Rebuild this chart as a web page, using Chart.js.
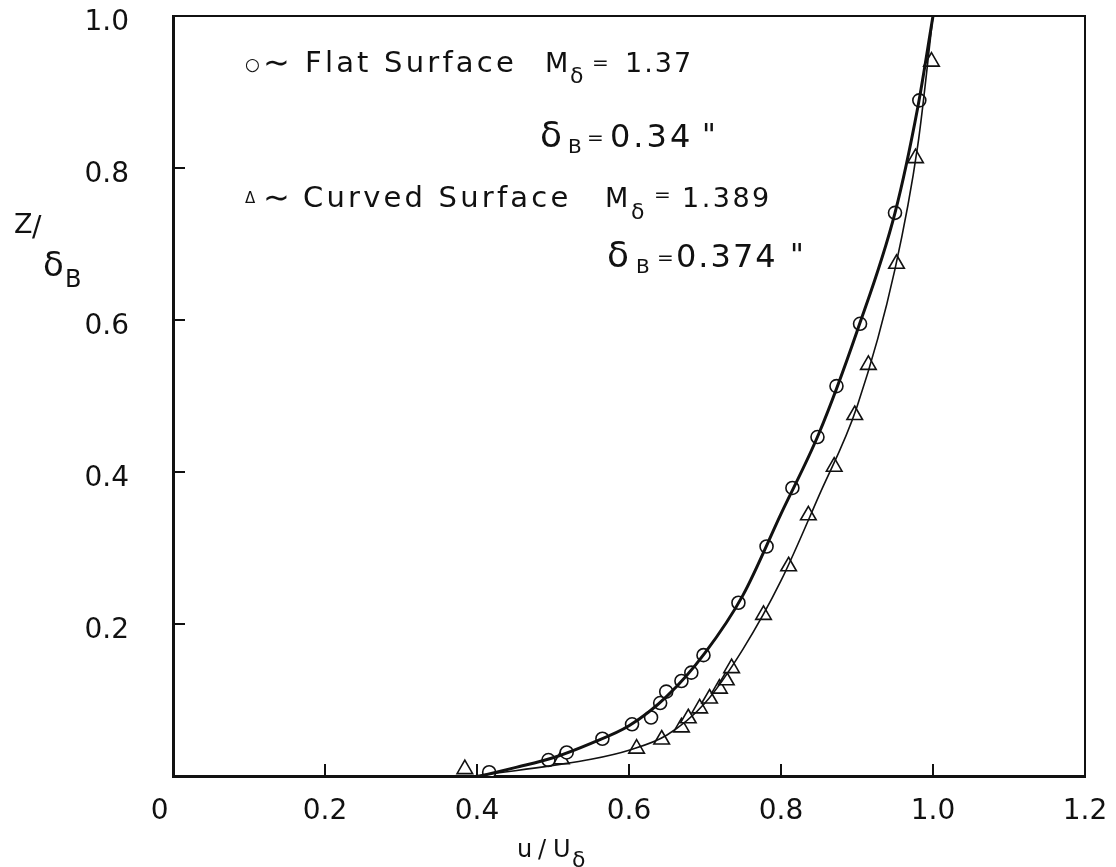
<!DOCTYPE html>
<html>
<head>
<meta charset="utf-8">
<script src="https://cdn.jsdelivr.net/npm/chart.js@4.4.1/dist/chart.umd.min.js"></script>
<style>
    html, body { margin: 0; padding: 0; background: #ffffff; }
    #chartBox { width: 1116px; height: 867px; }
</style>
</head>
<body>
<div id="chartBox"><canvas id="graficaPerfil" width="1116" height="867"></canvas></div>
<script>
// Data:
const flatU   = [0.416, 0.494, 0.518, 0.565, 0.604, 0.629, 0.641, 0.649, 0.669, 0.682, 0.698, 0.744, 0.781, 0.815, 0.848, 0.873, 0.904, 0.950, 0.982];
const flatZ   = [0.005, 0.021, 0.031, 0.049, 0.068, 0.077, 0.096, 0.111, 0.125, 0.136, 0.159, 0.228, 0.302, 0.379, 0.446, 0.513, 0.595, 0.741, 0.889];
const curvedU = [0.384, 0.511, 0.610, 0.643, 0.669, 0.678, 0.693, 0.706, 0.719, 0.728, 0.735, 0.777, 0.810, 0.836, 0.870, 0.897, 0.915, 0.952, 0.977, 0.998];
const curvedZ = [0.009, 0.022, 0.036, 0.048, 0.064, 0.076, 0.089, 0.102, 0.115, 0.126, 0.142, 0.212, 0.276, 0.343, 0.407, 0.475, 0.541, 0.674, 0.813, 0.940];

// Faired curves drawn through the points:
const flatFitU   = [0.405, 0.45, 0.50, 0.55, 0.60, 0.65, 0.70, 0.75, 0.80, 0.85, 0.90, 0.95, 0.98, 1.00];
const flatFitZ   = [0.000, 0.011, 0.024, 0.043, 0.066, 0.105, 0.162, 0.238, 0.345, 0.451, 0.585, 0.741, 0.880, 1.00];
const curvedFitU = [0.395, 0.45, 0.50, 0.55, 0.60, 0.65, 0.70, 0.75, 0.80, 0.85, 0.90, 0.95, 0.98, 1.00];
const curvedFitZ = [0.000, 0.007, 0.014, 0.022, 0.034, 0.054, 0.096, 0.167, 0.257, 0.369, 0.486, 0.667, 0.830, 1.00];

// Axis ticks:
const xTicks = [0, 0.2, 0.4, 0.6, 0.8, 1.0, 1.2];
const yTicks = [0.2, 0.4, 0.6, 0.8, 1.0];

const INK = "#111111";
const FONT = "'DejaVu Sans', sans-serif";

// Build {x, y} points:
function toPoints(xs, ys)
{
    const pts = [];
    for (let i = 0; i < xs.length; i++)
    {
        pts.push({x: xs[i], y: ys[i]});
    }
    return pts;
}

// Draw text pieces, each one at its own offset from the line start:
function drawRuns(ctx, x, y, runs)
{
    ctx.save();
    ctx.fillStyle = INK;
    ctx.textBaseline = "alphabetic";
    ctx.textAlign = "left";
    runs.forEach(function (r)
    {
        ctx.font = r.size + "px " + FONT;
        ctx.letterSpacing = (r.sp || 0) + "px";
        ctx.fillText(r.t, x + r.at, y + (r.dy || 0));
    });
    ctx.restore();
}

// No extra room for overflowing tick labels:
function noPadding(scale)
{
    scale.paddingTop = 0;
    scale.paddingBottom = 0;
    scale.paddingLeft = 0;
    scale.paddingRight = 0;
}

// Box, inward ticks, titles and notes:
const framePlugin = {
    id: "framePlugin",
    afterDraw: function (chart)
    {
        const ctx = chart.ctx;
        const a = chart.chartArea;
        const sx = chart.scales.x;
        const sy = chart.scales.y;

        ctx.save();
        ctx.strokeStyle = INK;
        ctx.lineWidth = 2;
        ctx.beginPath();
        ctx.moveTo(a.left, a.top);
        ctx.lineTo(a.right, a.top);
        ctx.lineTo(a.right, a.bottom);
        ctx.stroke();

        xTicks.forEach(function (v)
        {
            if (v <= 0 || v >= 1.2) return;
            const px = sx.getPixelForValue(v);
            ctx.beginPath();
            ctx.moveTo(px, a.bottom);
            ctx.lineTo(px, a.bottom - 12);
            ctx.stroke();
        });
        yTicks.forEach(function (v)
        {
            if (v >= 1.0) return;
            const py = sy.getPixelForValue(v);
            ctx.beginPath();
            ctx.moveTo(a.left, py);
            ctx.lineTo(a.left + 12, py);
            ctx.stroke();
        });
        ctx.restore();

        // Axis titles:
        drawRuns(ctx, 14, 233, [
            {t: "Z", size: 27, at: 0},
            {t: "/", size: 28, at: 18, dy: 3},
            {t: "δ", size: 34, at: 29, dy: 43},
            {t: "B", size: 24, at: 51, dy: 54}
        ]);
        drawRuns(ctx, 517, 857, [
            {t: "u", size: 24, at: 0},
            {t: "/", size: 24, at: 21},
            {t: "U", size: 24, at: 36},
            {t: "δ", size: 22, at: 55, dy: 10}
        ]);

        // Notes, placed from the plot box:
        const x0 = a.left;
        const y0 = a.top;
        drawRuns(ctx, x0, y0 + 56, [
            {t: "○", size: 17, at: 72, dy: -2},
            {t: "∼", size: 32, at: 90, dy: 1},
            {t: "Flat Surface", size: 29, sp: 3.2, at: 132},
            {t: "M", size: 27, at: 372},
            {t: "δ", size: 22, at: 397, dy: 11},
            {t: "=", size: 20, at: 419, dy: -3},
            {t: "1.37", size: 27, sp: 2, at: 452}
        ]);
        drawRuns(ctx, x0, y0 + 131, [
            {t: "δ", size: 36, at: 367},
            {t: "B", size: 20, at: 395, dy: 6},
            {t: "=", size: 20, at: 414, dy: -3},
            {t: "0.34", size: 32, sp: 3, at: 437},
            {t: "\"", size: 30, at: 529, dy: -2}
        ]);
        drawRuns(ctx, x0, y0 + 191, [
            {t: "Δ", size: 15, at: 72, dy: -4},
            {t: "∼", size: 32, at: 90, dy: 1},
            {t: "Curved Surface", size: 29, sp: 3.2, at: 130},
            {t: "M", size: 27, at: 432},
            {t: "δ", size: 22, at: 458, dy: 12},
            {t: "=", size: 20, at: 481, dy: -6},
            {t: "1.389", size: 27, sp: 2.5, at: 509}
        ]);
        drawRuns(ctx, x0, y0 + 251, [
            {t: "δ", size: 36, at: 434},
            {t: "B", size: 20, at: 463, dy: 6},
            {t: "=", size: 20, at: 484, dy: -3},
            {t: "0.374", size: 32, sp: 2, at: 503},
            {t: "\"", size: 30, at: 617, dy: -2}
        ]);
    }
};

// Draw chart:
function drawChart(canvas)
{
    const ctx = document.getElementById(canvas).getContext("2d");
    return new Chart(ctx,
    {
        type: "scatter",
        plugins: [framePlugin],
        data: {
            datasets: [
                {
                    label: "Flat Surface fit",
                    type: "line",
                    data: toPoints(flatFitU, flatFitZ),
                    borderColor: INK,
                    borderWidth: 3,
                    pointRadius: 0,
                    cubicInterpolationMode: "monotone",
                    fill: false
                },
                {
                    label: "Curved Surface fit",
                    type: "line",
                    data: toPoints(curvedFitU, curvedFitZ),
                    borderColor: INK,
                    borderWidth: 1.6,
                    pointRadius: 0,
                    cubicInterpolationMode: "monotone",
                    fill: false
                },
                {
                    label: "Flat Surface",
                    data: toPoints(flatU, flatZ),
                    pointStyle: "circle",
                    pointRadius: 6.5,
                    pointBorderWidth: 1.6,
                    pointBorderColor: INK,
                    pointBackgroundColor: "#ffffff"
                },
                {
                    label: "Curved Surface",
                    data: toPoints(curvedU, curvedZ),
                    pointStyle: "triangle",
                    pointRadius: 9,
                    pointBorderWidth: 1.6,
                    pointBorderColor: INK,
                    pointBackgroundColor: "#ffffff"
                }
            ]
        },
        options: {
            responsive: false,
            animation: false,
            layout: {
                padding: {left: 0, top: 16, right: 31, bottom: 0}
            },
            plugins: {
                legend: {display: false},
                tooltip: {enabled: false}
            },
            scales: {
                x: {
                    type: "linear",
                    min: 0,
                    max: 1.2,
                    afterFit: function (scale) { scale.height = 91; noPadding(scale); },
                    afterBuildTicks: function (scale) { scale.ticks = xTicks.map(function (v) { return {value: v}; }); },
                    grid: {display: false},
                    border: {display: true, color: INK, width: 3},
                    ticks: {
                        autoSkip: false,
                        maxRotation: 0,
                        padding: 11,
                        color: INK,
                        font: {family: FONT, size: 28},
                        callback: function (v) { return v === 0 ? "0   " : v.toFixed(1); }
                    }
                },
                y: {
                    type: "linear",
                    min: 0,
                    max: 1.0,
                    afterFit: function (scale) { scale.width = 173; noPadding(scale); },
                    afterBuildTicks: function (scale) { scale.ticks = yTicks.map(function (v) { return {value: v}; }); },
                    grid: {display: false},
                    border: {display: true, color: INK, width: 3},
                    ticks: {
                        autoSkip: false,
                        padding: 36,
                        labelOffset: 7,
                        color: INK,
                        font: {family: FONT, size: 28},
                        callback: function (v) { return v.toFixed(1); }
                    }
                }
            }
        }
    });
}

drawChart("graficaPerfil");
</script>
</body>
</html>
